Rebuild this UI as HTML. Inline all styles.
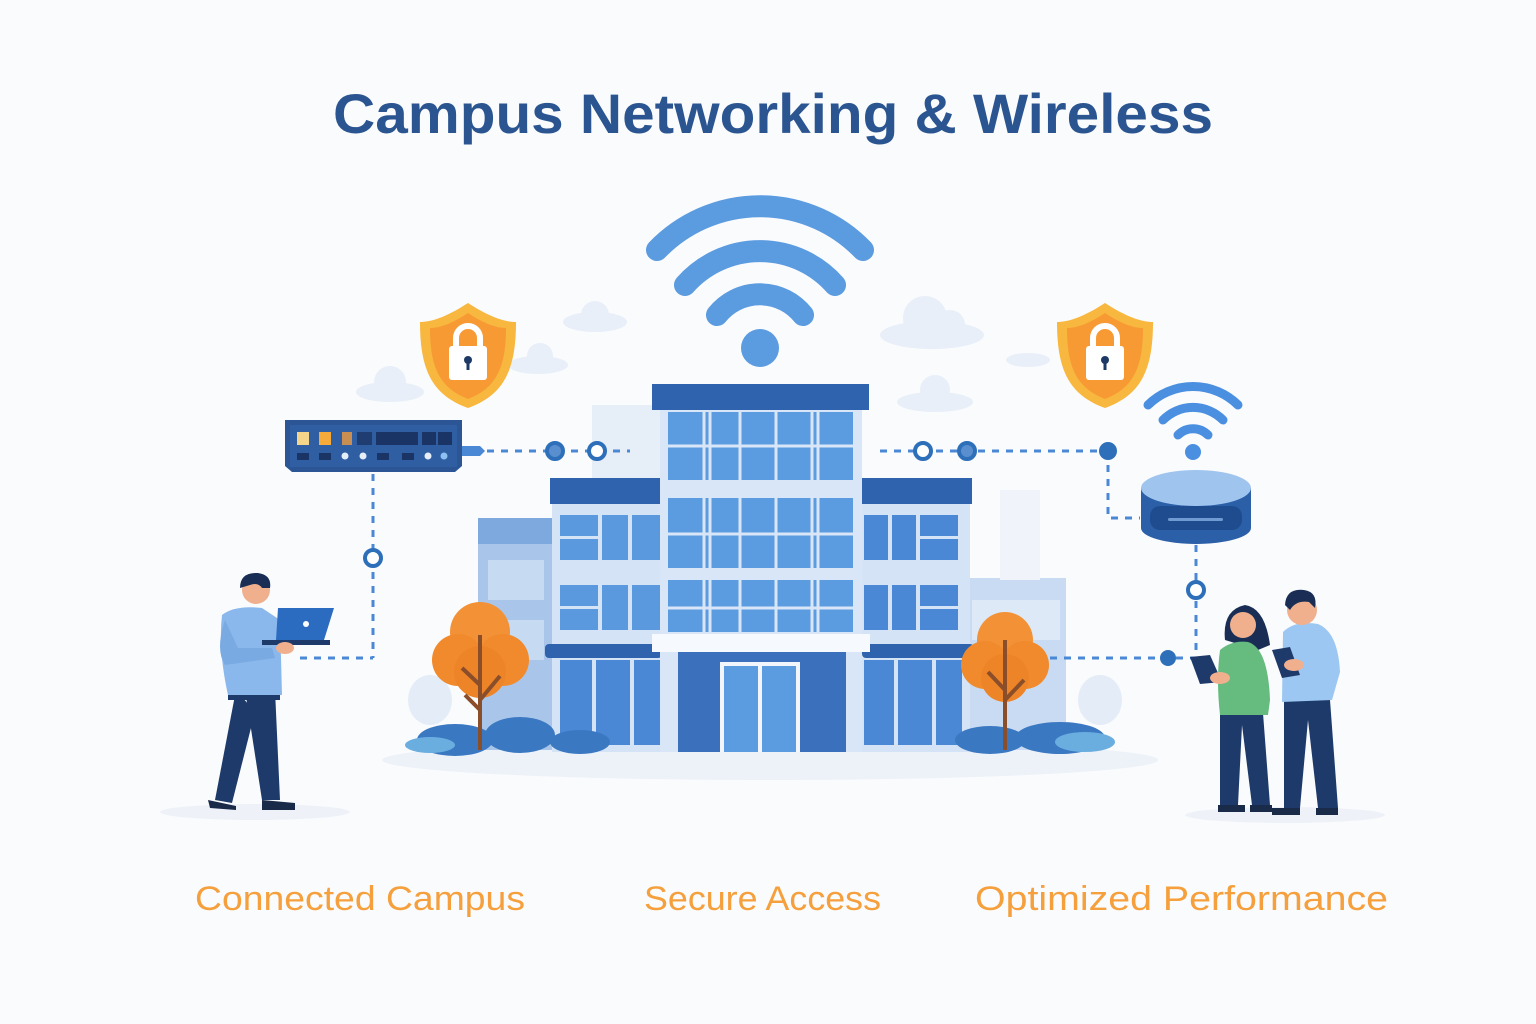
<!DOCTYPE html>
<html><head><meta charset="utf-8"><style>
html,body{margin:0;padding:0;background:#fafbfd;}
svg{display:block}
</style></head><body>
<svg width="1536" height="1024" viewBox="0 0 1536 1024" xmlns="http://www.w3.org/2000/svg">
<rect width="1536" height="1024" fill="#fafbfd"/>
<!-- title -->
<text x="773" y="133" text-anchor="middle" font-family="Liberation Sans, sans-serif" font-size="56" font-weight="bold" fill="#2b5590" textLength="880" lengthAdjust="spacingAndGlyphs">Campus Networking &amp; Wireless</text>

<!-- clouds -->
<g fill="#e8eff8">
<ellipse cx="595" cy="322" rx="32" ry="10"/><circle cx="595" cy="315" r="14"/>
<ellipse cx="538" cy="365" rx="30" ry="9"/><circle cx="540" cy="356" r="13"/>
<ellipse cx="390" cy="392" rx="34" ry="10"/><circle cx="390" cy="382" r="16"/>
<ellipse cx="932" cy="335" rx="52" ry="14"/><circle cx="925" cy="318" r="22"/><circle cx="950" cy="325" r="15"/>
<ellipse cx="935" cy="402" rx="38" ry="10"/><circle cx="935" cy="390" r="15"/>
<ellipse cx="1028" cy="360" rx="22" ry="7"/>
</g>
<!-- ground -->
<ellipse cx="770" cy="760" rx="388" ry="20" fill="#edf2f9"/>
<ellipse cx="255" cy="812" rx="95" ry="8" fill="#eef2f8"/>
<ellipse cx="1285" cy="815" rx="100" ry="8" fill="#eef2f8"/>
<!-- back buildings -->
<rect x="592" y="405" width="70" height="80" fill="#e6eef8"/>
<rect x="478" y="518" width="76" height="232" fill="#a9c6ea"/>
<rect x="478" y="518" width="76" height="26" fill="#7ea9de"/>
<rect x="488" y="560" width="56" height="40" fill="#c6daf2"/>
<rect x="488" y="620" width="56" height="40" fill="#c6daf2"/>
<rect x="966" y="578" width="100" height="172" fill="#c8dbf2"/>
<rect x="972" y="600" width="88" height="40" fill="#dde9f7"/>
<rect x="1000" y="490" width="40" height="90" fill="#f0f4fa"/>
<!-- left wing -->
<rect x="552" y="500" width="110" height="252" fill="#d4e3f6"/>
<rect x="550" y="478" width="112" height="26" fill="#2f63ad"/>
<g fill="#5b99de">
<rect x="560" y="515" width="38" height="45"/><rect x="602" y="515" width="26" height="45"/><rect x="632" y="515" width="28" height="45"/>
<rect x="560" y="585" width="38" height="45"/><rect x="602" y="585" width="26" height="45"/><rect x="632" y="585" width="28" height="45"/>
</g>
<rect x="560" y="536" width="38" height="3" fill="#d4e3f6"/><rect x="560" y="606" width="38" height="3" fill="#d4e3f6"/>
<rect x="545" y="644" width="117" height="14" rx="4" fill="#2f63ad"/>
<g fill="#4a88d6"><rect x="560" y="660" width="32" height="85"/><rect x="596" y="660" width="34" height="85"/><rect x="634" y="660" width="26" height="85"/></g>
<!-- right wing -->
<rect x="862" y="500" width="108" height="252" fill="#d4e3f6"/>
<rect x="862" y="478" width="110" height="26" fill="#2f63ad"/>
<g fill="#4a88d6">
<rect x="864" y="515" width="24" height="45"/><rect x="892" y="515" width="24" height="45"/><rect x="920" y="515" width="38" height="45"/>
<rect x="864" y="585" width="24" height="45"/><rect x="892" y="585" width="24" height="45"/><rect x="920" y="585" width="38" height="45"/>
</g>
<rect x="920" y="536" width="38" height="3" fill="#d4e3f6"/><rect x="920" y="606" width="38" height="3" fill="#d4e3f6"/>
<rect x="862" y="644" width="112" height="14" rx="4" fill="#2f63ad"/>
<g fill="#4a88d6"><rect x="864" y="660" width="30" height="85"/><rect x="898" y="660" width="34" height="85"/><rect x="936" y="660" width="26" height="85"/></g>
<!-- central tower -->
<rect x="660" y="405" width="202" height="347" fill="#d8e6f7"/>
<rect x="652" y="384" width="217" height="26" fill="#2f63ad"/>
<g fill="#5b9be0">
<rect x="668" y="412" width="185" height="68"/>
<rect x="668" y="498" width="185" height="70"/>
<rect x="668" y="580" width="185" height="52"/>
</g>
<g stroke="#d8e6f7" stroke-width="3">
<line x1="704" y1="410" x2="704" y2="634"/><line x1="740" y1="410" x2="740" y2="634"/><line x1="776" y1="410" x2="776" y2="634"/><line x1="812" y1="410" x2="812" y2="634"/><line x1="818" y1="410" x2="818" y2="634"/><line x1="710" y1="410" x2="710" y2="634"/>
<line x1="668" y1="446" x2="853" y2="446"/><line x1="668" y1="534" x2="853" y2="534"/><line x1="668" y1="608" x2="853" y2="608"/>
</g>
<rect x="652" y="634" width="218" height="18" fill="#f6f9fd"/>
<rect x="660" y="652" width="18" height="100" fill="#d8e6f7"/>
<rect x="846" y="652" width="16" height="100" fill="#d8e6f7"/>
<rect x="678" y="652" width="168" height="100" fill="#3a70bc"/>
<rect x="720" y="662" width="80" height="90" fill="#f2f6fc"/>
<rect x="724" y="666" width="34" height="86" fill="#5b9be0"/><rect x="762" y="666" width="34" height="86" fill="#5b9be0"/>
<!-- bushes -->
<g fill="#3b78c2">
<ellipse cx="455" cy="740" rx="38" ry="16"/><ellipse cx="520" cy="735" rx="35" ry="18"/><ellipse cx="580" cy="742" rx="30" ry="12"/>
<ellipse cx="990" cy="740" rx="35" ry="14"/><ellipse cx="1060" cy="738" rx="45" ry="16"/>
</g>
<ellipse cx="1085" cy="742" rx="30" ry="10" fill="#6aaee0"/>
<ellipse cx="430" cy="745" rx="25" ry="8" fill="#6aaee0"/>
<ellipse cx="430" cy="700" rx="22" ry="25" fill="#e3ecf7"/>
<ellipse cx="1100" cy="700" rx="22" ry="25" fill="#e3ecf7"/>
<!-- trees -->
<g>
<circle cx="480" cy="632" r="30" fill="#f39136"/><circle cx="458" cy="660" r="26" fill="#f08a2c"/><circle cx="503" cy="660" r="26" fill="#f08a2c"/><circle cx="480" cy="672" r="26" fill="#ee8428"/>
<path d="M480 750 V635 M480 685 L462 668 M480 700 L500 676 M480 710 L465 695" stroke="#8a4f2a" stroke-width="4" fill="none"/>
<circle cx="1005" cy="640" r="28" fill="#f39136"/><circle cx="985" cy="665" r="24" fill="#f08a2c"/><circle cx="1025" cy="665" r="24" fill="#f08a2c"/><circle cx="1005" cy="678" r="24" fill="#ee8428"/>
<path d="M1005 750 V640 M1005 690 L988 672 M1005 700 L1024 680" stroke="#8a4f2a" stroke-width="4" fill="none"/>
</g>
<!-- big wifi -->
<g fill="none" stroke="#5b9be0" stroke-width="22" stroke-linecap="round">
<path d="M657 250 A143 143 0 0 1 863 250"/>
<path d="M685 285 A100 100 0 0 1 835 285"/>
<path d="M717 315 A55 55 0 0 1 803 315"/>
</g>
<circle cx="760" cy="348" r="19" fill="#5b9be0"/>
<!-- shields -->
<g id="sh">
<path d="M468 303 C445 318 430 322 420 322 C420 370 432 395 468 408 C504 395 516 370 516 322 C506 322 491 318 468 303Z" fill="#f8b73e"/>
<path d="M468 313 C450 325 438 328 430 328 C430 368 440 388 468 399 C496 388 506 368 506 328 C498 328 486 325 468 313Z" fill="#f79a34"/>
<path d="M456 348 V338 A12 12 0 0 1 480 338 V348" fill="none" stroke="#fff" stroke-width="6"/>
<rect x="449" y="346" width="38" height="34" rx="3" fill="#fff"/>
<circle cx="468" cy="360" r="4" fill="#1d3a66"/><rect x="466.5" y="361" width="3" height="9" fill="#1d3a66"/>
</g>
<use href="#sh" x="637" y="0"/>
<!-- switch -->
<path d="M285 420 H462 V466 L455 472 H292 L285 466Z" fill="#2b5595"/>
<rect x="290" y="425" width="167" height="42" fill="#2f5ea3"/>
<rect x="297" y="432" width="12" height="13" fill="#f4d58a"/><rect x="319" y="432" width="12" height="13" fill="#f5aa3a"/><rect x="342" y="432" width="10" height="13" fill="#c98e52"/>
<rect x="357" y="432" width="15" height="13" fill="#1f3d70"/><rect x="376" y="432" width="42" height="13" fill="#1a3565"/><rect x="422" y="432" width="14" height="13" fill="#1a3565"/><rect x="438" y="432" width="14" height="13" fill="#1a3565"/>
<g fill="#1a3565"><rect x="297" y="453" width="12" height="7"/><rect x="319" y="453" width="12" height="7"/><rect x="377" y="453" width="12" height="7"/><rect x="402" y="453" width="12" height="7"/></g>
<g fill="#e6eefa"><circle cx="345" cy="456" r="3.5"/><circle cx="363" cy="456" r="3.5"/><circle cx="428" cy="456" r="3.5"/></g>
<circle cx="444" cy="456" r="3.5" fill="#8fc0f0"/>
<path d="M462 446 H480 L485 451 L480 456 H462Z" fill="#4a88d6"/>
<!-- connectors -->
<g stroke="#4a88d6" stroke-width="3" stroke-dasharray="7 7" fill="none">
<line x1="487" y1="451" x2="630" y2="451"/>
<line x1="373" y1="474" x2="373" y2="658"/>
<line x1="300" y1="658" x2="373" y2="658"/>
<line x1="880" y1="451" x2="1108" y2="451"/>
<path d="M1108 451 V518 H1140"/>
<line x1="1196" y1="545" x2="1196" y2="658"/>
<line x1="1050" y1="658" x2="1196" y2="658"/>
</g>
<g stroke="#2e6fba" stroke-width="4">
<circle cx="555" cy="451" r="8" fill="#5a8fcf"/><circle cx="597" cy="451" r="8" fill="#fff"/>
<circle cx="373" cy="558" r="8" fill="#fff"/>
<circle cx="923" cy="451" r="8" fill="#fff"/><circle cx="967" cy="451" r="8" fill="#5a8fcf"/>
<circle cx="1196" cy="590" r="8" fill="#fff"/>
</g>
<circle cx="1108" cy="451" r="9" fill="#2e6fba"/><circle cx="1168" cy="658" r="8" fill="#2e6fba"/>
<!-- small wifi + device -->
<g fill="none" stroke="#4a8fe0" stroke-width="9" stroke-linecap="round">
<path d="M1148 405 A64 64 0 0 1 1238 405"/><path d="M1163 420 A42 42 0 0 1 1223 420"/><path d="M1178 435 A21 21 0 0 1 1208 435"/>
</g>
<circle cx="1193" cy="452" r="8" fill="#4a8fe0"/>
<path d="M1141 488 V528 A55 16 0 0 0 1251 528 V488Z" fill="#2b5fa8"/>
<ellipse cx="1196" cy="488" rx="55" ry="18" fill="#9fc4ee"/>
<rect x="1150" y="506" width="92" height="24" rx="10" fill="#1f4c8e"/>
<rect x="1168" y="518" width="55" height="3" rx="1.5" fill="#6f9ad2"/>
<!-- left person -->
<g>
<path d="M236 690 L215 800 L232 803 L255 712Z" fill="#1e3a6b"/>
<path d="M245 690 L262 800 L280 800 L275 690Z" fill="#1e3a6b"/>
<rect x="228" y="660" width="52" height="40" fill="#1e3a6b"/>
<path d="M222 615 Q235 605 262 608 L280 620 L282 695 L228 695 Q218 650 222 615Z" fill="#8ab8ec"/>
<path d="M225 620 Q215 650 225 665 L275 658 L272 648 L238 648 Z" fill="#7aaae2"/>
<circle cx="256" cy="590" r="14" fill="#f0b08e"/>
<path d="M240 588 Q240 572 258 573 Q272 575 270 588 L262 588 Q258 582 250 585 Z" fill="#1a2e55"/>
<path d="M278 608 H334 L324 640 H276Z" fill="#2b6cc0"/>
<rect x="262" y="640" width="68" height="5" fill="#1e3a6b"/>
<circle cx="306" cy="624" r="3" fill="#fff"/>
<ellipse cx="285" cy="648" rx="9" ry="6" fill="#f0b08e"/>
<path d="M208 800 L236 806 L236 810 L210 808Z" fill="#1a2b4a"/>
<path d="M262 800 L295 803 L295 810 L262 810Z" fill="#1a2b4a"/>
</g>
<!-- right people -->
<g>
<!-- man -->
<path d="M1284 700 H1330 L1338 808 H1318 L1308 720 L1300 808 H1284Z" fill="#1e3a6b"/>
<path d="M1283 632 Q1295 620 1318 624 Q1338 632 1340 672 L1332 700 L1282 702 Z" fill="#9cc7f2"/>
<circle cx="1302" cy="610" r="15" fill="#f0b08e"/>
<path d="M1285 605 Q1286 588 1304 590 Q1318 592 1315 608 L1309 602 Q1296 600 1290 610Z" fill="#1a2e55"/>
<path d="M1272 650 L1290 647 L1300 675 L1282 678Z" fill="#1e3a6b"/>
<ellipse cx="1294" cy="665" rx="10" ry="6" fill="#f0b08e"/>
<path d="M1272 808 H1300 V815 H1272Z" fill="#1a2b4a"/><path d="M1316 808 H1338 V815 H1316Z" fill="#1a2b4a"/>
<!-- woman -->
<path d="M1225 640 Q1222 610 1245 605 Q1265 608 1270 645 L1258 650 Z" fill="#1a2e55"/>
<path d="M1220 700 H1262 L1270 805 H1252 L1242 725 L1238 805 H1220Z" fill="#1e3a6b"/>
<path d="M1220 650 Q1232 640 1248 642 Q1268 648 1270 700 L1268 715 H1220 Q1216 680 1220 650Z" fill="#66bb7e"/>
<circle cx="1243" cy="625" r="13" fill="#f0b08e"/>
<path d="M1190 657 L1210 655 L1222 682 L1200 684Z" fill="#1e3a6b"/>
<ellipse cx="1220" cy="678" rx="10" ry="6" fill="#f0b08e"/>
<path d="M1218 805 H1245 V812 H1218Z" fill="#1a2b4a"/><path d="M1250 805 H1272 V812 H1250Z" fill="#1a2b4a"/>
</g>
<!-- labels -->
<g font-family="Liberation Sans, sans-serif" font-size="34" fill="#f5a03c">
<text x="195" y="910" textLength="330" lengthAdjust="spacingAndGlyphs">Connected Campus</text>
<text x="644" y="910" textLength="237" lengthAdjust="spacingAndGlyphs">Secure Access</text>
<text x="975" y="910" textLength="413" lengthAdjust="spacingAndGlyphs">Optimized Performance</text>
</g>
</svg>
</body></html>
